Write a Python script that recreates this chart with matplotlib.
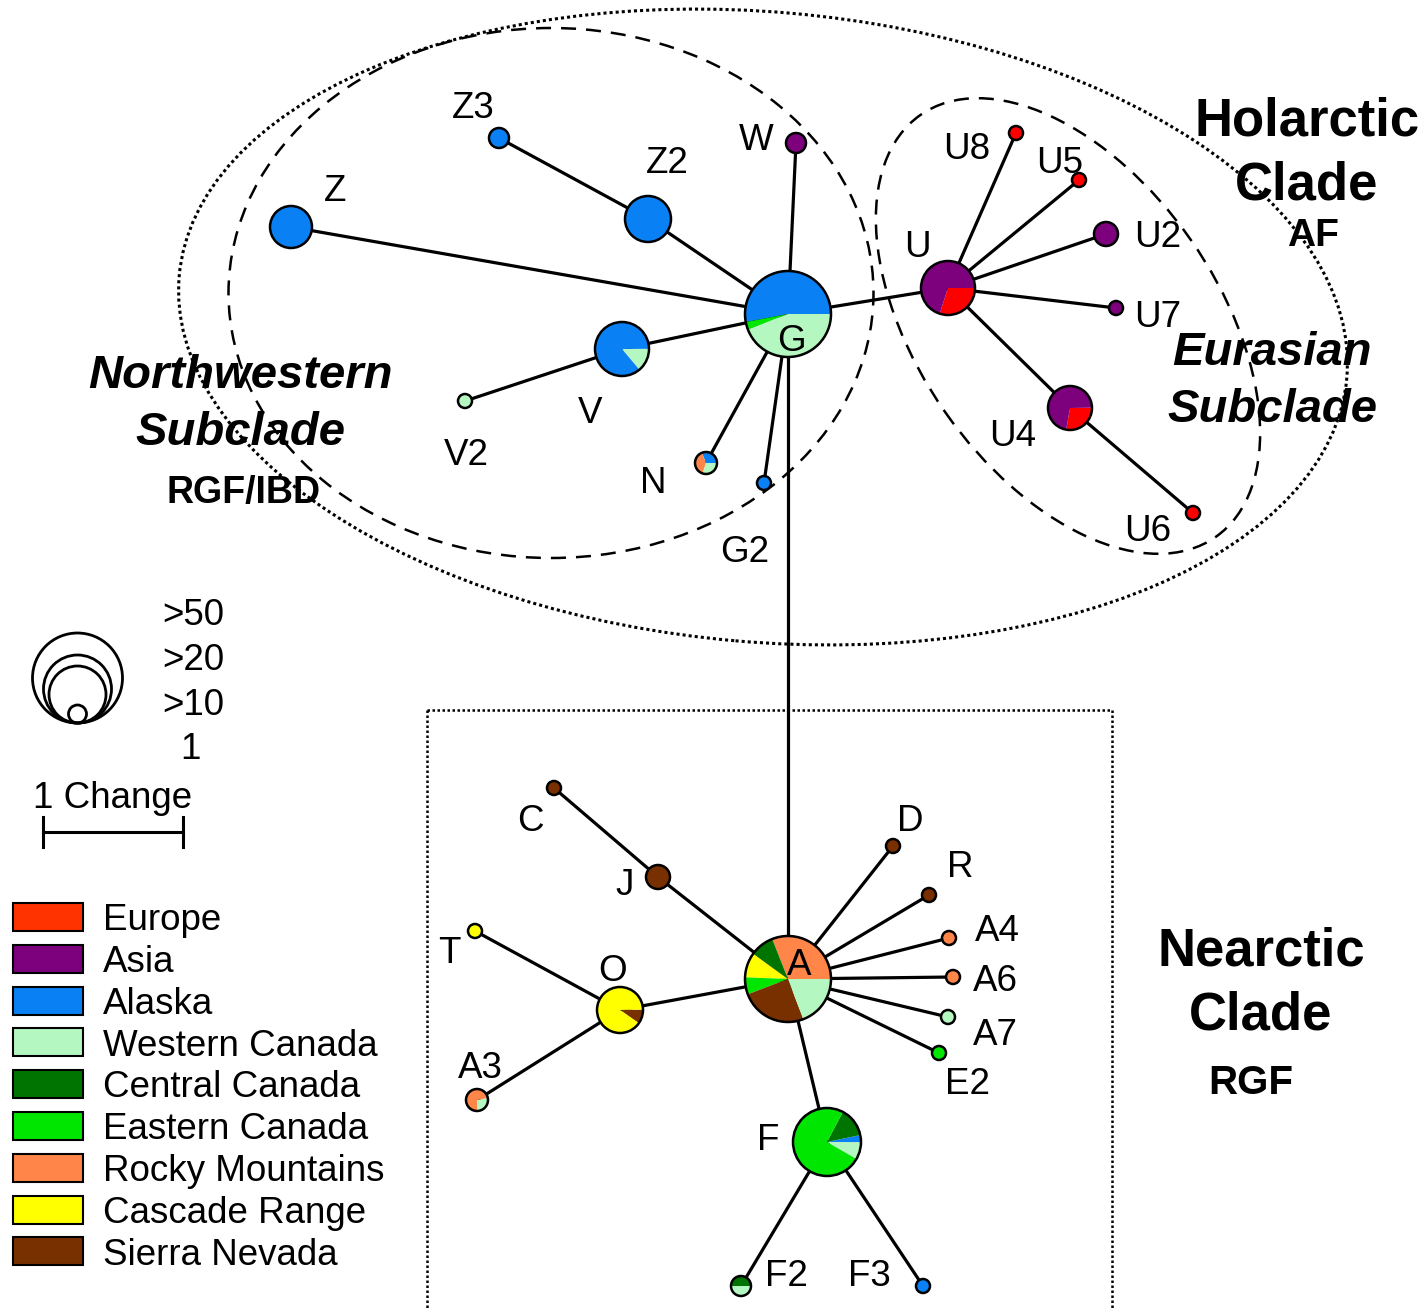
#!/usr/bin/env python3
"""Haplotype network: Holarctic / Nearctic clades, pies coloured by region."""

import matplotlib
matplotlib.use("Agg")
import matplotlib.pyplot as plt
from matplotlib.patches import Wedge, Circle, Ellipse, Rectangle

plt.rcParams["font.family"] = ["Liberation Sans", "DejaVu Sans"]

W, H = 1426, 1310

# ─── DATA ──────────────────────────────────────────────────────────────────────
REGIONS = ["Europe", "Asia", "Alaska", "Western Canada", "Central Canada",
           "Eastern Canada", "Rocky Mountains", "Cascade Range", "Sierra Nevada"]
REGION_COLORS = ["#ff0000", "#7d007d", "#0a80f5", "#b5f7c0", "#007400",
                 "#00e600", "#ff8548", "#ffff00", "#783000"]
LEGEND_COLORS = ["#ff3300", "#7d007d", "#0a80f5", "#b5f7c0", "#007400",
                 "#00e600", "#ff8548", "#ffff00", "#783000"]

# haplotype name, x, y (picture pixels), radius
NODE_NAMES = ["G", "Z", "Z2", "Z3", "W", "V", "V2", "N", "G2",
              "U", "U8", "U5", "U2", "U7", "U4", "U6",
              "A", "J", "C", "D", "R", "A4", "A6", "A7", "E2",
              "O", "T", "A3", "F", "F2", "F3"]
NODE_X = [788, 291, 648, 499, 796, 622, 465, 706, 764,
          948, 1016, 1079, 1106, 1116, 1070, 1193,
          788, 658, 554, 893, 929, 949, 953, 948, 939,
          620, 475, 477, 827, 741, 923]
NODE_Y = [314, 227, 219, 138, 143, 349, 401, 463, 483,
          288, 133, 180, 234, 308, 408, 513,
          979, 877, 788, 846, 895, 938, 977, 1017, 1053,
          1010, 931, 1100, 1142, 1286, 1286]
NODE_R = [43, 21, 23, 10, 10, 27, 7, 11, 7,
          27, 7, 7, 12, 7, 22, 7,
          43, 12, 7, 7, 7, 7, 7, 7, 7,
          23, 7, 11, 34, 10, 7]

# pie composition per haplotype: (region, fraction), counter-clockwise
COMPOSITION = {
    "G":  [("Alaska", 0.53), ("Eastern Canada", 0.03), ("Western Canada", 0.44)],
    "Z":  [("Alaska", 1.0)],
    "Z2": [("Alaska", 1.0)],
    "Z3": [("Alaska", 1.0)],
    "W":  [("Asia", 1.0)],
    "V":  [("Western Canada", 0.14), ("Alaska", 0.86)],
    "V2": [("Western Canada", 1.0)],
    "N":  [("Alaska", 0.31), ("Rocky Mountains", 0.39), ("Western Canada", 0.30)],
    "G2": [("Alaska", 1.0)],
    "U":  [("Europe", 0.30), ("Asia", 0.70)],
    "U8": [("Europe", 1.0)],
    "U5": [("Europe", 1.0)],
    "U2": [("Asia", 1.0)],
    "U7": [("Asia", 1.0)],
    "U4": [("Europe", 0.28), ("Asia", 0.72)],
    "U6": [("Europe", 1.0)],
    "A":  [("Rocky Mountains", 0.31), ("Central Canada", 0.09),
           ("Cascade Range", 0.094), ("Eastern Canada", 0.064),
           ("Sierra Nevada", 0.25), ("Western Canada", 0.192)],
    "J":  [("Sierra Nevada", 1.0)],
    "C":  [("Sierra Nevada", 1.0)],
    "D":  [("Sierra Nevada", 1.0)],
    "R":  [("Sierra Nevada", 1.0)],
    "A4": [("Rocky Mountains", 1.0)],
    "A6": [("Rocky Mountains", 1.0)],
    "A7": [("Western Canada", 1.0)],
    "E2": [("Eastern Canada", 1.0)],
    "O":  [("Sierra Nevada", 0.10), ("Cascade Range", 0.90)],
    "T":  [("Cascade Range", 1.0)],
    "A3": [("Western Canada", 0.28), ("Rocky Mountains", 0.72)],
    "F":  [("Western Canada", 0.083), ("Alaska", 0.033),
           ("Central Canada", 0.14), ("Eastern Canada", 0.744)],
    "F2": [("Central Canada", 0.5), ("Western Canada", 0.5)],
    "F3": [("Alaska", 1.0)],
}

EDGES = [("Z", "G"), ("Z3", "Z2"), ("Z2", "G"), ("W", "G"), ("V2", "V"),
         ("V", "G"), ("N", "G"), ("G2", "G"), ("G", "U"), ("U", "U8"),
         ("U", "U5"), ("U", "U2"), ("U", "U7"), ("U", "U4"), ("U4", "U6"),
         ("G", "A"), ("A", "J"), ("J", "C"), ("A", "D"), ("A", "R"),
         ("A", "A4"), ("A", "A6"), ("A", "A7"), ("A", "E2"), ("A", "O"),
         ("O", "T"), ("O", "A3"), ("A", "F"), ("F", "F2"), ("F", "F3")]

# label text and its centre in the picture
LABELS = ["Z3", "Z2", "Z", "W", "U8", "U5", "U2", "U", "U7", "U4", "U6",
          "V", "V2", "N", "G2", "G", "C", "J", "D", "R", "A4", "A6", "A7",
          "E2", "T", "O", "A3", "A", "F", "F2", "F3"]
LABEL_X = [473, 667, 335, 756, 967, 1060, 1158, 917, 1158, 1013, 1148,
           590, 466, 653, 745, 791, 530, 625, 910, 960, 997, 995, 995,
           967, 449, 613, 480, 799, 768, 786, 869]
LABEL_Y = [105, 160, 188, 137, 146, 160, 234, 244, 314, 433, 528,
           410, 452, 480, 549, 338, 818, 882, 818, 864, 928, 978, 1032,
           1081, 950, 968, 1065, 962, 1137, 1273, 1273]

START_ANGLE = {"G": 0, "V": -50, "N": 0, "U": -108, "U4": -100, "A": 0,
               "O": -35, "F": -30, "A3": -90, "F2": 0}

SIZE_CLASSES = [">50", ">20", ">10", "1"]
SIZE_RADII = [45, 34, 28.5, 9]
# ────────────────────────────────────────────────────────────────────────────────


def Y(y):
    """picture row -> data y (axis points up)."""
    return H - y


def text_at(ax, x, y, s, size=26.5, cap=0.72, **kw):
    """Put text so that its capitals are centred on picture point (x, y)."""
    cap_px = size * 100 / 72 * cap
    ax.text(x, Y(y + cap_px / 2), s, fontsize=size, ha=kw.pop("ha", "center"),
            va="baseline", zorder=6, **kw)


def main():
    fig = plt.figure(figsize=(W / 100, H / 100), dpi=100)
    ax = fig.add_axes([0, 0, 1, 1])
    ax.set_xlim(0, W)
    ax.set_ylim(0, H)
    ax.axis("off")

    pos = {n: (x, Y(y)) for n, x, y in zip(NODE_NAMES, NODE_X, NODE_Y)}
    rad = dict(zip(NODE_NAMES, NODE_R))
    cmap = dict(zip(REGIONS, REGION_COLORS))

    # clade outlines
    ax.add_patch(Ellipse((763, Y(327)), 1172, 630, angle=-5, fill=False,
                         lw=2.2, ls=(0, (1, 1)), color="black", zorder=1))
    ax.add_patch(Ellipse((551, Y(293)), 645, 530, angle=0, fill=False,
                         lw=1.8, ls=(0, (6, 4)), color="black", zorder=1))
    ax.add_patch(Ellipse((1068, Y(326)), 515, 300, angle=-55, fill=False,
                         lw=1.8, ls=(0, (6, 4)), color="black", zorder=1))
    for (x0, y0), (x1, y1) in [((427, 710), (1112, 710)), ((427, 710), (427, 1320)),
                               ((1112, 710), (1112, 1320))]:
        ax.plot([x0, x1], [Y(y0), Y(y1)], color="black", lw=1.8,
                ls=(0, (1, 1)), zorder=1)

    # network edges
    for a, b in EDGES:
        ax.plot([pos[a][0], pos[b][0]], [pos[a][1], pos[b][1]],
                color="black", lw=2.3, zorder=2, solid_capstyle="butt")

    # pies
    for n in NODE_NAMES:
        cx, cy = pos[n]
        r = rad[n]
        theta = START_ANGLE.get(n, 0)
        for region, frac in COMPOSITION[n]:
            t2 = theta + 360 * frac
            ax.add_patch(Wedge((cx, cy), r, theta, t2, facecolor=cmap[region],
                               edgecolor="none", zorder=3))
            theta = t2
        ax.add_patch(Circle((cx, cy), r, fill=False, edgecolor="black",
                            lw=1.8, zorder=4))

    for s, x, y in zip(LABELS, LABEL_X, LABEL_Y):
        text_at(ax, x, y, s)

    # clade names
    text_at(ax, 1307, 117, "Holarctic", size=38, weight="bold")
    text_at(ax, 1307, 181, "Clade", size=38, weight="bold")
    text_at(ax, 1313, 232, "AF", size=28, weight="bold")
    text_at(ax, 1272, 348, "Eurasian", size=34, weight="bold", style="italic")
    text_at(ax, 1272, 405, "Subclade", size=34, weight="bold", style="italic")
    text_at(ax, 240, 371, "Northwestern", size=34, weight="bold", style="italic")
    text_at(ax, 240, 428, "Subclade", size=34, weight="bold", style="italic")
    text_at(ax, 244, 489, "RGF/IBD", size=27, weight="bold")
    text_at(ax, 1261, 946, "Nearctic", size=38, weight="bold")
    text_at(ax, 1261, 1011, "Clade", size=38, weight="bold")
    text_at(ax, 1251, 1080, "RGF", size=29, weight="bold")

    # size legend
    for r in SIZE_RADII:
        ax.add_patch(Circle((77.5, Y(723 - r)), r, fill=False,
                            edgecolor="black", lw=2.0, zorder=4))
    for i, s in enumerate(SIZE_CLASSES):
        text_at(ax, 193 if s != "1" else 190, 612 + 44.7 * i, s)

    # scale bar
    text_at(ax, 113, 795, "1 Change")
    ax.plot([43, 183], [Y(832), Y(832)], color="black", lw=2.2)
    for x in (43, 183):
        ax.plot([x, x], [Y(817), Y(847)], color="black", lw=2.2)

    # region legend
    for i, (name, col) in enumerate(zip(REGIONS, LEGEND_COLORS)):
        top = 903 + 41.8 * i
        ax.add_patch(Rectangle((13, Y(top + 28)), 70, 28, facecolor=col,
                               edgecolor="black", lw=1.5, zorder=4))
        text_at(ax, 103, top + 14, name, ha="left")

    fig.savefig("out.png", dpi=100)


if __name__ == "__main__":
    main()
